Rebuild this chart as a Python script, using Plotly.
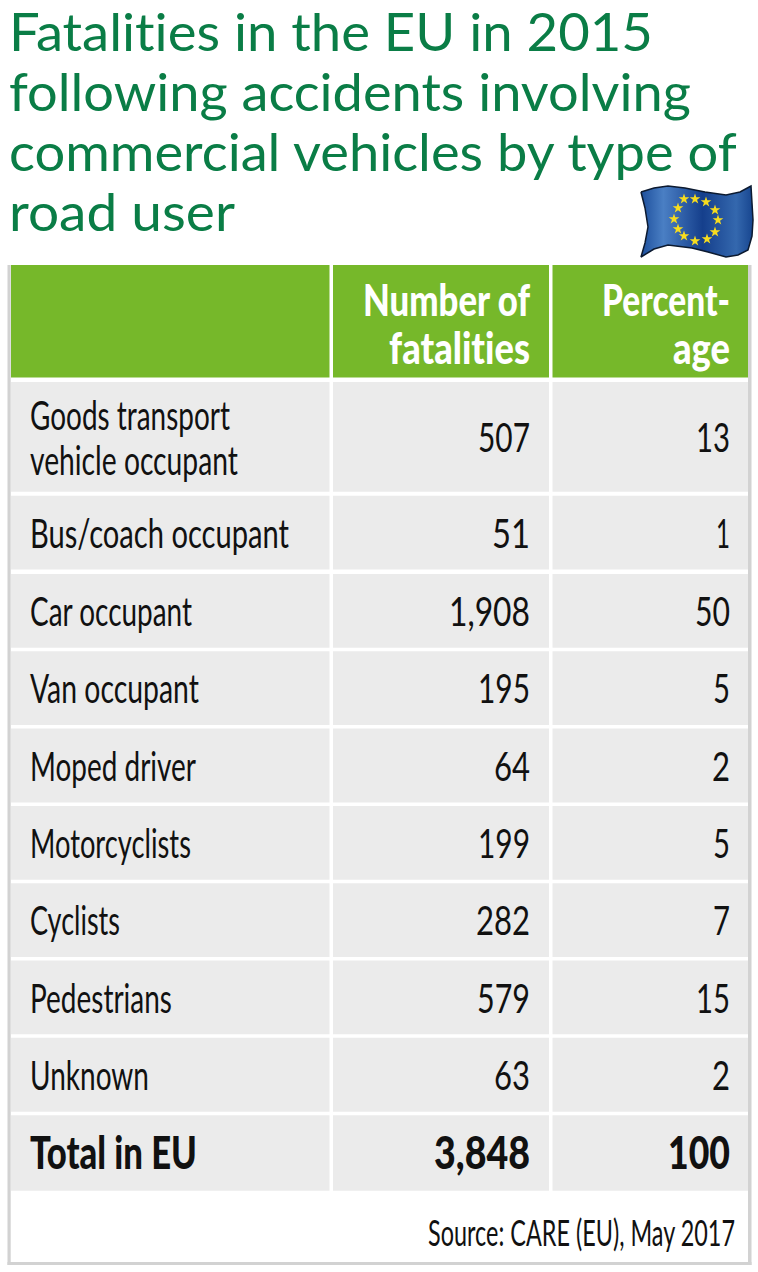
import json
import plotly.graph_objects as go

# ---- data ----
title_lines = ["Fatalities in the EU in 2015", "following accidents involving",
               "commercial vehicles by type of", "road user"]
head_number = ["Number of", "fatalities"]
head_percent = ["Percent-", "age"]
road_users = [["Goods transport", "vehicle occupant"], ["Bus/coach occupant"], ["Car occupant"],
              ["Van occupant"], ["Moped driver"], ["Motorcyclists"], ["Cyclists"], ["Pedestrians"], ["Unknown"]]
fatalities = ["507", "51", "1,908", "195", "64", "199", "282", "579", "63"]
percentage = ["13", "1", "50", "5", "2", "5", "7", "15", "2"]
total_row = ["Total in EU", "3,848", "100"]
source = "Source: CARE (EU), May 2017"

# ---- layout (page pixels) ----
W, H = 758, 1272
col_left = [11, 333, 552.5]
col_right = [329.5, 549, 748]
row_tops = [265, 382, 495.7, 574, 651.3, 728.6, 806, 883.2, 960.5, 1037.8, 1115.2]
row_bots = [377.5, 491.7, 569.5, 647.8, 725.1, 802.4, 879.7, 957, 1034.3, 1111.7, 1190.7]
GREEN, GREY, FRAME, TITLE, INK = "#76b82a", "#ebebeb", "#d2d2d2", "#0a7d46", "#111111"
FONT = "Lato"

# widths of each string as drawn in the condensed face of the reference
fit_width = {
    "Fatalities in the EU in 2015": 644, "following accidents involving": 682,
    "commercial vehicles by type of": 728, "road user": 226,
    "Number of": 167, "fatalities": 141, "Percent-": 128, "age": 57,
    "Goods transport": 200, "vehicle occupant": 208, "Bus/coach occupant": 259, "Car occupant": 162,
    "Van occupant": 169, "Moped driver": 166, "Motorcyclists": 161, "Cyclists": 90,
    "Pedestrians": 142, "Unknown": 119, "Total in EU": 167,
    "507": 52, "51": 38, "1,908": 81, "195": 52, "64": 36, "199": 52, "282": 54, "579": 53, "63": 36,
    "13": 34, "1": 14, "50": 35, "5": 17, "2": 18, "7": 17, "15": 34,
    "3,848": 96, "100": 62, "Source: CARE (EU), May 2017": 307,
}

fig = go.Figure()
def band(x0, x1, y0, y1, color):
    return dict(type="rect", x0=x0, x1=x1, y0=y0, y1=y1, line=dict(width=0), fillcolor=color, layer="below")

shapes = [band(7.5, 10.7, 265, 1265, FRAME), band(748, 751.5, 265, 1265, FRAME), band(7.5, 751.5, 1262, 1265, FRAME)]
for r, (t, b) in enumerate(zip(row_tops, row_bots)):
    for c in range(3):
        shapes.append(band(col_left[c], col_right[c], t, b, GREEN if r == 0 else GREY))

def txt(x, y, s, size, color=INK, anchor="left", weight=400):
    fig.add_trace(go.Scatter(x=[x], y=[y], text=[s], mode="text", hoverinfo="skip", showlegend=False,
                             cliponaxis=False,
                             textposition="middle right" if anchor == "left" else "middle left",
                             textfont=dict(family=FONT, size=size, color=color, weight=weight)))

# flag
flag_x = [641, 654, 668, 685, 705, 726, 740, 751, 752, 753, 752, 748, 738, 726, 708, 692, 668, 654, 641, 645, 648, 645]
flag_y = [192, 188, 186, 188, 192, 195, 192, 186, 203, 220, 236, 250, 255, 257, 252, 248, 245, 249, 257, 243, 227, 208]
fig.add_trace(go.Scatter(
    x=flag_x + flag_x[:1], y=flag_y + flag_y[:1],
    mode="lines", fill="toself", line=dict(color="#0c1a30", width=1.5),
    fillgradient=dict(type="horizontal", colorscale=[[0, "#1d4f9c"], [0.2, "#4a7fc4"], [0.55, "#153f8c"],
                                                     [0.85, "#3468ae"], [1, "#17458f"]]),
    hoverinfo="skip", showlegend=False))
star_x = [684, 695, 706, 715, 718, 715, 707, 695, 684, 678, 674, 678]
star_y = [199, 199, 202, 210, 220, 232, 239, 241, 236, 229, 219, 208]
fig.add_trace(go.Scatter(x=star_x, y=star_y, mode="markers",
                         marker=dict(symbol="star", size=8, color="#f7dc1e", line=dict(width=0)),
                         hoverinfo="skip", showlegend=False))

for i, ln in enumerate(title_lines):
    txt(9, 38.2 + i * 59.7, ln, 53, TITLE)
for i, ln in enumerate(head_number):
    txt(530, 305 + i * 48, ln, 44, "white", "right", 900)
for i, ln in enumerate(head_percent):
    txt(730, 305 + i * 48, ln, 44, "white", "right", 900)
for i in range(9):
    m = (row_tops[i + 1] + row_bots[i + 1]) / 2 + 5
    lines = road_users[i]
    for j, ln in enumerate(lines):
        txt(30, m + (j - (len(lines) - 1) / 2) * 45, ln, 41)
    txt(530, m, fatalities[i], 41, anchor="right")
    txt(730, m, percentage[i], 41, anchor="right")
m = (row_tops[10] + row_bots[10]) / 2 + 5
txt(30, m, total_row[0], 45, weight=900)
txt(530, m, total_row[1], 45, anchor="right", weight=900)
txt(730, m, total_row[2], 45, anchor="right", weight=900)
txt(735, 1237, source, 37, anchor="right")

fig.update_layout(width=W, height=H, margin=dict(l=0, r=0, t=0, b=0), paper_bgcolor="white",
                  plot_bgcolor="white", shapes=shapes, showlegend=False,
                  xaxis=dict(range=[0, W], visible=False, fixedrange=True),
                  yaxis=dict(range=[H, 0], visible=False, fixedrange=True))

# The reference face is a condensed one that is not installed: fit the real text to its widths,
# scaling each string horizontally about its anchor.
fit_js = """
document.body.style.margin='0';
var fit = %s;
document.querySelectorAll('.textpoint text').forEach(function (t) {
  t.style.fontVariantLigatures = 'none';
  var w = fit[t.textContent];
  if (w) {
    var x = parseFloat(t.getAttribute('x')) || 0;
    var k = w / t.getComputedTextLength();
    t.setAttribute('transform', 'translate(' + x + ',0) scale(' + k + ',1) translate(' + (-x) + ',0)');
  }
});
""" % json.dumps(fit_width)
fig.write_html("out.html", config=dict(displayModeBar=False), post_script=fit_js)
